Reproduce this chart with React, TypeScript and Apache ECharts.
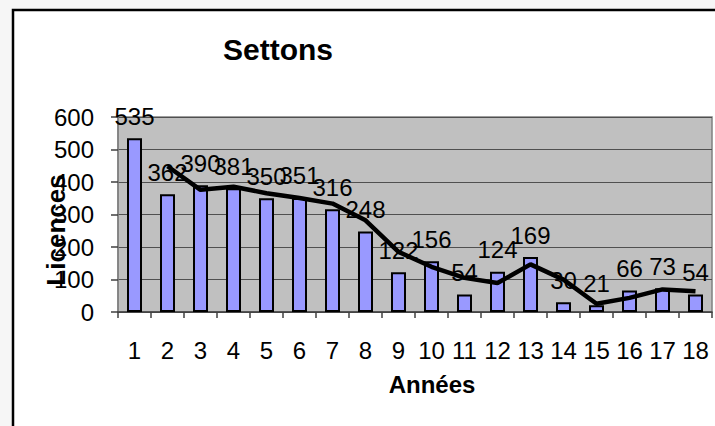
import React, { useEffect, useRef } from "react";
import * as echarts from "echarts";

const categories = ["1", "2", "3", "4", "5", "6", "7", "8", "9", "10", "11", "12", "13", "14", "15", "16", "17", "18"];
const licences = [535, 362, 390, 381, 350, 351, 316, 248, 122, 156, 54, 124, 169, 30, 21, 66, 73, 54];
const trend: (number | null)[] = [null, 448.5, 376, 385.5, 365.5, 350.5, 333.5, 282, 185, 139, 105, 89, 146.5, 99.5, 25.5, 43.5, 69.5, 63.5];
const yTicks = [0, 100, 200, 300, 400, 500, 600];

const FONT = "Liberation Sans, Arial, sans-serif";

export default function App() {
  const ref = useRef<HTMLDivElement>(null);
  useEffect(() => {
    if (!ref.current) return;
    const chart = echarts.init(ref.current, null, { renderer: "svg" });
    chart.setOption({
      animation: false,
      backgroundColor: "#f6f6f6",
      textStyle: { fontFamily: FONT },
      graphic: [
        {
          type: "rect",
          z: -10,
          shape: { x: 13, y: 10, width: 720, height: 440 },
          style: { fill: "#ffffff", stroke: "#000000", lineWidth: 2.5 },
          silent: true,
        },
        {
          type: "text",
          x: 278,
          y: 49,
          style: {
            text: "Settons",
            fontFamily: FONT,
            fontSize: 30,
            fontWeight: "bold",
            fill: "#000",
            textAlign: "center",
            textVerticalAlign: "middle",
          },
        },
        {
          type: "text",
          x: 432,
          y: 384,
          style: {
            text: "Années",
            fontFamily: FONT,
            fontSize: 24,
            fontWeight: "bold",
            fill: "#000",
            textAlign: "center",
            textVerticalAlign: "middle",
          },
        },
        {
          type: "text",
          x: 56,
          y: 230,
          rotation: Math.PI / 2,
          style: {
            text: "Licences",
            fontFamily: FONT,
            fontSize: 26,
            fontWeight: "bold",
            fill: "#000",
            textAlign: "center",
            textVerticalAlign: "middle",
          },
        },
      ],
      grid: {
        left: 118,
        top: 117,
        right: 3,
        bottom: 114,
        show: true,
        backgroundColor: "#C0C0C0",
        borderColor: "#808080",
        borderWidth: 1.5,
      },
      xAxis: {
        type: "category",
        data: categories,
        boundaryGap: true,
        axisLine: { show: true, lineStyle: { color: "#404040", width: 1.5 } },
        axisTick: { show: true, length: 6, alignWithLabel: false, lineStyle: { color: "#404040", width: 1.5 } },
        axisLabel: { fontSize: 24, color: "#000", margin: 26, fontFamily: FONT, interval: 0 },
        splitLine: { show: false },
      },
      yAxis: {
        type: "value",
        min: yTicks[0],
        max: yTicks[yTicks.length - 1],
        interval: 100,
        axisLine: { show: true, lineStyle: { color: "#808080", width: 1.5 } },
        axisTick: { show: true, length: 7, lineStyle: { color: "#404040", width: 1.5 } },
        axisLabel: { fontSize: 24, color: "#000", margin: 24, fontFamily: FONT },
        splitLine: { show: true, lineStyle: { color: "#505050", width: 1.2 } },
      },
      series: [
        {
          type: "bar",
          data: licences,
          barWidth: 15,
          itemStyle: { color: "#9999FF", borderColor: "#000", borderWidth: 2 },
          label: {
            show: true,
            position: "top",
            distance: 10,
            fontSize: 24,
            color: "#000",
            fontFamily: FONT,
          },
          z: 2,
        },
        {
          type: "line",
          data: trend,
          showSymbol: false,
          symbol: "none",
          lineStyle: { color: "#000", width: 4.5 },
          z: 3,
        },
      ],
    });
    return () => chart.dispose();
  }, []);
  return (
    <div
      ref={ref}
      style={{ position: "fixed", left: 0, top: 0, width: 715, height: 426 }}
    />
  );
}
